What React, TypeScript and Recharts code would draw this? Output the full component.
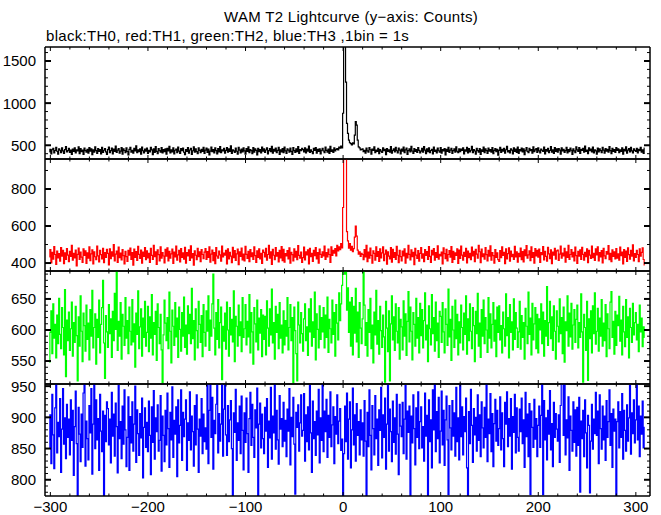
import React from 'react';
import { LineChart, Line, XAxis, YAxis } from 'recharts';

// ---------- text ----------
const TITLE = 'WAM T2 Lightcurve (y\u2212axis: Counts)';
const SUBTITLE = 'black:TH0, red:TH1, green:TH2, blue:TH3 ,1bin = 1s';

// ---------- x axis ----------
const X_DOMAIN: [number, number] = [-305.5, 314.5];
const X_TICKS = [-300, -280, -260, -240, -220, -200, -180, -160, -140, -120, -100, -80, -60, -40, -20, 0, 20, 40, 60, 80, 100, 120, 140, 160, 180, 200, 220, 240, 260, 280, 300];
const X_LABELED = [-300, -200, -100, 0, 100, 200, 300];

// ---------- y axes ----------
const Y0_DOMAIN: [number, number] = [337, 1666];
const Y0_TICKS = [400, 500, 600, 700, 800, 900, 1000, 1100, 1200, 1300, 1400, 1500, 1600];
const Y0_LABELED = [500, 1000, 1500];
const Y1_DOMAIN: [number, number] = [357, 962];
const Y1_TICKS = [400, 500, 600, 700, 800, 900];
const Y1_LABELED = [400, 600, 800];
const Y2_DOMAIN: [number, number] = [513, 695];
const Y2_TICKS = [520, 530, 540, 550, 560, 570, 580, 590, 600, 610, 620, 630, 640, 650, 660, 670, 680, 690];
const Y2_LABELED = [550, 600, 650];
const Y3_DOMAIN: [number, number] = [774, 953.4];
const Y3_TICKS = [780, 790, 800, 810, 820, 830, 840, 850, 860, 870, 880, 890, 900, 910, 920, 930, 940, 950];
const Y3_LABELED = [800, 850, 900, 950];

// ---------- TH0 (black) ----------
const th0Pre = [
  421,452,398,447,463,410,438,476,429,395,457,441,412,468,433,404,449,485,420,437,
  462,415,443,391,455,428,470,409,446,434,480,401,459,425,444,392,466,437,418,452,
  407,473,431,456,388,445,419,482,437,403,461,426,450,397,474,414,441,459,422,393,
  448,478,412,436,465,399,454,427,489,416,443,460,405,431,471,394,457,438,413,468,
  426,385,451,474,418,440,406,463,432,492,411,447,424,458,396,479,435,409,453,430,
  467,402,439,421,476,445,390,458,414,483,428,400,461,437,419,472,408,449,425,456,
  394,463,433,487,410,446,422,469,398,441,455,413,477,430,404,459,436,466,417,389,
  450,427,473,406,444,462,391,435,481,419,457,425,400,468,439,412,452,428,474,403,
  442,466,415,455,387,431,478,424,449,408,470,436,397,460,421,484,411,445,432,463,
  405,439,471,418,458,426,493,402,447,434,414,465,429,395,476,443,410,454,420,468,
  433,396,459,427,481,412,448,437,401,472,419,456,440,386,463,425,450,409,478,431,
  457,416,444,470,398,436,461,423,488,407,452,429,467,413,439,475,392,446,421,460,
  411,479,434,402,456,442,418,466,428,393,471,437,415,458,425,483,404,449,436,462,
  448,420,469,409,453,431,490,415,445,424,400,462,438,473,406,451,427,458,397,441,
  464,432,412,477,439,419,455,403,486,428,446,416,470,434,452,461,444,478,466,489,
  470,
];
const th0Burst = [880,1800,1750,1250,760,640,560,530,520,505,530,515,620,780,740,560,480,470,445,452];
const th0Post = [
  458,425,441,407,466,433,419,472,447,396,455,438,481,412,444,427,463,401,449,430,
  414,470,436,452,389,461,428,445,418,483,406,439,457,421,474,435,410,467,442,398,
  453,429,477,411,446,465,393,437,458,420,488,432,404,461,426,449,415,472,440,408,
  430,462,417,485,442,401,456,424,469,413,438,451,397,479,427,444,409,466,435,419,
  471,405,448,433,460,387,452,426,476,415,443,464,402,437,458,418,482,429,411,456,
  424,453,439,468,399,446,431,474,408,459,420,441,486,413,450,432,395,463,437,417,
  460,391,445,427,478,412,456,436,403,467,429,449,418,471,400,440,461,425,452,384,
  439,474,416,451,430,463,405,447,488,421,436,410,458,442,397,469,426,454,414,477,
  402,448,433,466,420,457,389,441,473,428,413,462,435,449,407,480,423,445,459,416,
  468,434,409,455,441,426,479,398,450,431,464,411,438,485,419,446,403,472,428,457,
  419,461,443,396,470,432,452,414,437,476,408,449,425,466,441,393,458,434,412,481,
  445,428,473,404,451,438,463,417,490,426,444,401,469,435,455,420,478,410,447,433,
  396,467,422,458,436,412,475,443,405,461,429,452,418,484,437,400,464,427,449,415,
  472,438,456,413,445,427,469,394,451,432,480,406,443,460,421,476,434,409,458,440,
  426,463,410,451,437,474,419,445,402,466,
];

// ---------- TH1 (red) ----------
const th1Pre = [
  433,472,401,458,421,489,446,392,465,428,451,410,483,437,469,397,455,420,478,443,
  408,463,436,495,415,452,428,470,385,447,481,419,459,432,404,476,441,466,398,455,
  426,487,413,449,471,395,460,434,418,492,439,406,468,445,423,480,402,457,430,474,
  452,390,477,424,461,437,499,411,448,465,403,486,429,454,417,473,440,396,463,435,
  409,468,442,481,420,456,388,475,431,462,414,490,447,425,470,399,459,436,484,418,
  466,428,453,404,479,441,419,496,434,460,393,471,445,412,488,427,457,438,401,474,
  437,482,411,463,426,450,475,398,459,433,491,416,444,469,406,478,430,455,421,485,
  400,457,439,471,414,493,428,451,389,466,442,418,480,435,461,407,473,446,424,459,
  478,419,462,431,487,405,448,470,413,456,397,483,438,427,465,444,410,492,433,454,
  443,469,396,476,422,458,437,402,485,429,467,414,450,475,391,460,436,481,417,448,
  412,490,447,425,463,408,472,434,455,419,488,440,403,466,431,477,423,452,398,470,
  458,433,479,415,446,495,427,461,392,474,442,418,484,437,456,406,469,428,489,413,
  474,405,451,438,467,423,482,399,458,445,411,476,432,463,418,494,441,426,459,404,
  429,486,417,460,444,471,396,479,435,452,409,468,440,483,422,457,400,475,447,431,
  461,438,492,419,456,433,475,446,404,487,441,468,453,478,439,496,465,487,472,505,
  482,
];
const th1Burst = [700,1150,1250,990,570,520,480,505,470,490,462,478,540,600,545,470,448,460,436,452];
const th1Post = [
  446,418,472,433,495,407,459,426,481,441,399,466,452,415,487,436,462,409,476,428,
  455,488,413,448,470,394,461,437,423,483,405,474,431,456,419,490,442,402,468,435,
  412,464,439,477,400,453,428,496,447,417,471,434,458,391,480,443,425,467,410,452,
  484,427,450,408,473,441,462,419,489,436,403,469,444,478,415,457,430,493,421,447,
  438,459,396,482,451,424,474,411,446,467,432,489,404,463,420,455,441,477,398,470,
  425,491,443,416,458,436,479,401,465,429,452,418,486,439,463,407,474,448,427,495,
  461,402,475,434,449,421,484,445,412,468,437,493,416,457,440,399,472,431,455,418,
  409,467,429,487,441,458,397,476,423,451,482,410,464,435,447,419,490,433,461,405,
  453,435,481,418,462,406,471,440,494,427,444,466,413,488,430,456,400,478,439,468,
  432,475,403,457,445,489,417,463,436,410,485,450,424,471,397,459,442,480,421,466,
  470,414,448,492,426,454,438,479,405,461,431,496,419,446,473,433,458,412,486,440,
  398,463,437,471,420,485,447,416,458,434,476,402,469,443,425,491,429,452,414,477,
  444,488,411,456,433,467,401,480,439,424,462,448,494,418,453,407,471,436,460,422,
  478,427,450,415,486,440,459,396,473,431,465,409,482,445,421,468,437,498,412,451,
  430,469,446,408,476,437,458,482,419,390,
];

// ---------- TH2 (green) ----------
const th2Pre = [
  548,596,631,562,642,587,609,555,624,578,651,593,570,636,604,560,665,525,616,583,
  629,567,602,645,558,612,580,638,591,518,621,574,655,598,549,627,607,566,640,585,
  611,552,633,590,664,571,604,626,545,617,588,648,563,609,636,680,579,522,623,597,
  572,641,594,618,556,630,583,659,601,694,567,614,590,644,553,625,606,575,652,587,
  615,562,637,598,576,649,581,610,540,627,593,663,570,605,634,558,619,588,646,574,
  596,638,565,621,587,657,560,612,593,630,551,642,604,578,625,568,515,592,648,611,
  583,620,570,661,598,547,632,606,575,644,589,619,556,637,601,566,628,590,653,572,
  608,561,639,594,625,578,667,586,615,552,634,599,571,646,609,580,623,557,641,596,
  574,631,598,655,567,616,590,642,690,603,560,628,585,649,571,612,637,520,606,582,
  627,569,645,600,558,636,592,617,581,663,549,622,606,574,640,591,613,565,652,588,
  602,641,576,614,589,657,563,628,597,545,636,610,581,648,568,619,595,633,557,624,
  585,622,560,647,603,574,634,592,666,579,612,553,638,596,625,570,644,587,608,563,
  631,576,615,590,652,568,604,641,583,620,515,637,599,562,518,645,608,579,628,594,
  566,618,642,583,605,559,634,597,650,574,613,588,661,552,626,601,571,639,585,620,
  597,636,571,624,588,653,564,617,602,579,648,593,628,558,641,611,584,660,615,642,
  672,
];
const th2Burst = [700,705,690,698,632,668,596,645,574,652,560,638,595,667,581,629,556,644,603,578];
const th2Post = [
  618,695,640,575,612,558,633,596,651,570,608,547,629,592,664,577,615,561,638,599,
  572,624,589,516,646,603,565,631,518,610,655,584,621,567,642,598,579,636,553,617,
  605,568,647,590,626,559,614,662,581,637,598,552,628,609,574,651,587,620,563,643,
  591,633,571,615,660,584,608,549,639,602,576,657,594,620,566,645,583,611,556,630,
  622,580,644,597,563,634,609,575,666,589,617,551,638,600,572,648,586,625,560,613,
  579,640,604,568,627,593,655,561,618,583,642,598,570,636,607,549,630,594,659,574,
  611,556,633,590,648,578,620,600,564,652,587,626,571,609,644,582,616,557,637,596,
  639,584,607,563,629,602,574,658,591,620,555,641,596,613,568,650,585,628,603,572,
  597,646,569,623,588,612,553,635,606,578,661,593,619,560,643,584,610,636,570,625,
  563,618,600,642,578,629,558,615,590,670,575,612,646,586,621,567,639,598,553,631,
  606,581,650,594,620,562,637,548,613,599,655,574,627,589,643,569,608,633,580,617,
  640,571,612,588,658,597,516,625,604,567,646,519,618,586,631,563,639,594,660,577,
  598,635,566,619,590,649,574,611,583,641,557,626,602,570,645,662,588,614,561,630,
  575,624,607,654,582,616,560,638,597,573,649,588,621,555,635,604,580,643,592,612,
  628,584,609,565,640,597,619,573,605,588,
];

// ---------- TH3 (blue) ----------
const th3Pre = [
  851,904,826,937,872,818,915,955,843,892,869,930,812,881,946,857,899,834,921,868,
  897,840,928,863,911,807,885,942,858,770,916,873,829,905,852,939,958,822,894,866,
  832,919,875,946,809,889,956,850,928,864,898,815,937,878,845,910,772,903,861,925,
  914,856,897,827,940,870,905,838,923,885,811,951,866,893,834,918,857,944,880,821,
  868,933,815,901,859,925,846,889,950,828,912,874,839,906,867,931,803,884,915,852,
  892,845,926,871,808,917,860,943,833,899,877,920,846,863,935,814,902,871,829,911,
  856,939,882,820,908,864,949,836,895,873,917,805,928,859,887,944,831,908,869,897,
  928,815,891,863,941,848,902,877,822,919,856,936,881,812,897,870,930,842,905,861,
  883,849,958,826,911,955,868,932,817,895,874,921,958,843,906,862,889,957,838,913,
  956,872,839,919,861,896,927,850,768,907,876,945,831,891,863,918,842,934,879,816,
  907,860,931,874,812,898,940,855,921,868,836,912,883,947,770,889,923,851,905,866,
  842,916,878,930,820,894,867,948,833,902,875,957,849,911,864,825,935,881,898,853,
  924,862,895,837,913,878,946,824,900,869,932,857,777,908,884,920,846,891,936,870,
  879,938,830,904,861,917,848,951,875,812,926,866,893,839,910,872,945,827,899,863,
  958,845,910,877,929,836,903,868,941,853,888,917,826,901,873,936,858,894,914,847,
  865,
];
const th3Burst = [775,842,918,861,939,833,897,925,819,880,947,856,904,830,922,871,893,840,912,864];
const th3Post = [
  891,838,927,862,772,908,853,944,871,816,919,882,840,935,866,897,823,912,879,948,
  835,904,868,931,817,889,952,846,913,877,829,926,860,899,841,937,873,808,921,886,
  869,924,842,897,951,833,910,876,918,771,902,859,936,882,824,915,868,941,850,893,
  917,851,885,830,939,870,903,775,928,861,896,819,944,880,958,845,909,866,932,827,
  878,942,856,911,823,896,934,864,776,919,883,848,927,870,907,838,948,861,899,832,
  956,869,917,840,901,877,931,819,773,909,858,945,887,828,914,872,900,846,936,863,
  904,837,925,883,851,916,868,953,829,897,874,938,845,906,821,890,929,862,911,855,
  882,933,848,907,866,821,924,889,941,853,898,870,930,817,901,876,937,843,915,868,
  846,913,877,931,858,896,820,940,869,905,837,922,776,910,884,852,929,865,898,837,
  887,918,852,903,957,776,927,864,899,832,911,873,943,848,890,821,924,868,906,881,
  862,904,828,919,955,957,871,954,840,896,867,933,815,902,879,846,925,860,912,838,
  916,855,932,780,894,866,911,837,928,875,819,903,887,779,862,921,849,897,874,940,
  871,910,826,936,882,849,918,864,902,831,927,868,893,944,855,906,820,913,878,897,
  775,893,925,851,909,868,938,833,911,879,846,920,862,899,951,841,907,874,928,859,
  896,958,864,918,837,902,873,926,851,884,
];

// ---------- build series (t = 0 is the first burst bin) ----------
function buildSeries(pre: number[], burst: number[], post: number[]) {
  const all = [...pre, ...burst, ...post];
  const start = -pre.length;
  return all.map((v, i) => ({ t: start + i, v }));
}
const seriesTH0 = buildSeries(th0Pre, th0Burst, th0Post);
const seriesTH1 = buildSeries(th1Pre, th1Burst, th1Post);
const seriesTH2 = buildSeries(th2Pre, th2Burst, th2Post);
const seriesTH3 = buildSeries(th3Pre, th3Burst, th3Post);

const FONT = '"Liberation Sans", Arial, Helvetica, sans-serif';
const fmt = (v: number) => (v < 0 ? '\u2212' + Math.abs(v) : String(v));

function makeYTick(side: 'left' | 'right', labeled: number[]) {
  return (props: any) => {
    const { x, y, payload } = props;
    const major = labeled.includes(payload.value);
    const len = major ? 6 : 3;
    const dir = side === 'left' ? 1 : -1;
    return (
      <g>
        <line x1={x} y1={y} x2={x + dir * len} y2={y} stroke="#000" strokeWidth={major ? 2 : 1} />
        {side === 'left' && major ? (
          <text x={x - 9} y={y} dy="0.36em" textAnchor="end" fontSize={15} fontFamily={FONT} fill="#000">
            {payload.value}
          </text>
        ) : null}
      </g>
    );
  };
}

function makeXTick(side: 'top' | 'bottom', showLabel: boolean) {
  return (props: any) => {
    const { x, y, payload } = props;
    const major = X_LABELED.includes(payload.value);
    const len = major ? 4 : 2.5;
    const dir = side === 'bottom' ? -1 : 1;
    return (
      <g>
        <line x1={x} y1={y} x2={x} y2={y + dir * len} stroke="#000" strokeWidth={1} />
        {showLabel && side === 'bottom' && major ? (
          <text x={x} y={y + 16} textAnchor="middle" fontSize={15} fontFamily={FONT} fill="#000">
            {fmt(payload.value)}
          </text>
        ) : null}
      </g>
    );
  };
}

type PanelProps = {
  top: number;
  plotH: number;
  data: { t: number; v: number }[];
  color: string;
  domain: [number, number];
  ticks: number[];
  labeled: number[];
  showX: boolean;
};

const PAD = 10;

function Panel({ top, plotH, data, color, domain, ticks, labeled, showX }: PanelProps) {
  const bottomH = showX ? 20 : 1;
  const h = PAD + 1 + plotH + bottomH;
  const axisLine = { stroke: '#000', strokeWidth: 1.5 };
  return (
    <div style={{ position: 'absolute', left: 0, top: top - PAD - 1, width: 661, height: h }}>
      <LineChart width={661} height={h} data={data} margin={{ top: PAD, right: 0, bottom: 0, left: 0 }}>
        <XAxis
          xAxisId="b"
          dataKey="t"
          type="number"
          orientation="bottom"
          domain={X_DOMAIN}
          allowDataOverflow
          ticks={X_TICKS}
          interval={0}
          height={bottomH}
          tickSize={0}
          tickMargin={0}
          tickLine={false}
          axisLine={axisLine}
          tick={makeXTick('bottom', showX)}
        />
        <XAxis
          xAxisId="t"
          dataKey="t"
          type="number"
          orientation="top"
          domain={X_DOMAIN}
          allowDataOverflow
          ticks={X_TICKS}
          interval={0}
          height={1}
          tickSize={0}
          tickMargin={0}
          tickLine={false}
          axisLine={axisLine}
          tick={makeXTick('top', false)}
        />
        <YAxis
          yAxisId="l"
          orientation="left"
          type="number"
          domain={domain}
          allowDataOverflow
          ticks={ticks}
          interval={0}
          width={45}
          tickSize={0}
          tickMargin={0}
          tickLine={false}
          axisLine={axisLine}
          tick={makeYTick('left', labeled)}
        />
        <YAxis
          yAxisId="r"
          orientation="right"
          type="number"
          domain={domain}
          allowDataOverflow
          ticks={ticks}
          interval={0}
          width={11}
          tickSize={0}
          tickMargin={0}
          tickLine={false}
          axisLine={axisLine}
          tick={makeYTick('right', labeled)}
        />
        <Line
          xAxisId="b"
          yAxisId="l"
          dataKey="v"
          type="step"
          stroke={color}
          strokeWidth={1.2}
          dot={false}
          isAnimationActive={false}
        />
      </LineChart>
    </div>
  );
}

export default function App() {
  return (
    <div style={{ position: 'absolute', left: 0, top: 0, width: 661, height: 515, background: '#fff' }}>
      <svg width={661} height={47} style={{ position: 'absolute', left: 0, top: 0 }}>
        <text x={351} y={22} textAnchor="middle" fontSize={15} letterSpacing={0.3} fontFamily={FONT} fill="#000">
          {TITLE}
        </text>
        <text x={46} y={41} textAnchor="start" fontSize={15} letterSpacing={0.3} fontFamily={FONT} fill="#000">
          {SUBTITLE}
        </text>
      </svg>
      <Panel top={47} plotH={112} data={seriesTH0} color="#000000" domain={Y0_DOMAIN} ticks={Y0_TICKS} labeled={Y0_LABELED} showX={false} />
      <Panel top={159} plotH={112} data={seriesTH1} color="#ff0000" domain={Y1_DOMAIN} ticks={Y1_TICKS} labeled={Y1_LABELED} showX={false} />
      <Panel top={271} plotH={113} data={seriesTH2} color="#00ff00" domain={Y2_DOMAIN} ticks={Y2_TICKS} labeled={Y2_LABELED} showX={false} />
      <Panel top={384} plotH={112} data={seriesTH3} color="#0000ff" domain={Y3_DOMAIN} ticks={Y3_TICKS} labeled={Y3_LABELED} showX={true} />
    </div>
  );
}
